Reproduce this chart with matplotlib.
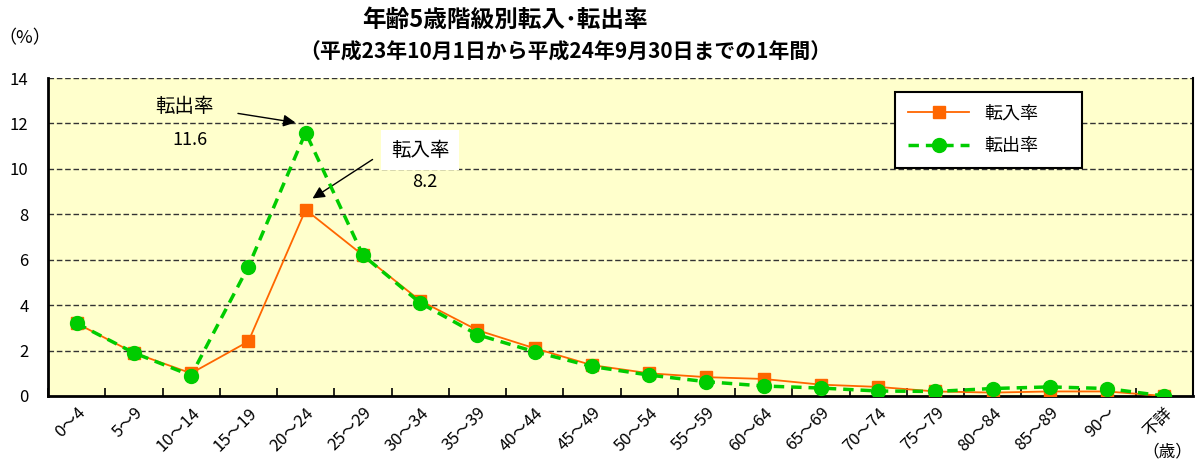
import matplotlib
matplotlib.use("Agg")
import matplotlib.pyplot as plt
import numpy as np

plt.rcParams['font.family'] = ['Noto Sans CJK JP', 'DejaVu Sans']

categories = ["0～4", "5～9", "10～14", "15～19", "20～24", "25～29", "30～34",
              "35～39", "40～44", "45～49", "50～54", "55～59", "60～64", "65～69",
              "70～74", "75～79", "80～84", "85～89", "90～", "不詳"]
tennyu = [3.2, 1.9, 1.0, 2.4, 8.2, 6.2, 4.2, 2.9, 2.1, 1.36, 1.0, 0.83, 0.75,
          0.5, 0.4, 0.2, 0.15, 0.2, 0.2, 0.0]
tenshutsu = [3.2, 1.9, 0.9, 5.7, 11.6, 6.2, 4.1, 2.7, 1.95, 1.3, 0.92, 0.63, 0.44,
             0.35, 0.22, 0.2, 0.33, 0.4, 0.33, 0.0]
yticks = [0, 2, 4, 6, 8, 10, 12, 14]

fig = plt.figure(figsize=(11.97, 4.61), dpi=100)
ax = fig.add_axes([48/1197, 1 - 396/461, 1145/1197, 318/461])
ax.set_facecolor('#FFFFCC')

x = np.arange(len(categories))
ax.plot(x, tennyu, color='#FF6600', lw=1.3, marker='s', ms=8,
        markerfacecolor='#FF6600', markeredgecolor='#FF6600', label='転入率', zorder=3)
ax.plot(x, tenshutsu, color='#00CC00', lw=2.5, ls=(0, (3, 2)), marker='o', ms=10,
        markerfacecolor='#00CC00', markeredgecolor='#00CC00', label='転出率', zorder=4)

ax.set_xlim(-0.5, len(categories) - 0.5)
ax.set_ylim(0, 14)
ax.set_yticks(yticks)
ax.set_yticklabels([str(v) for v in yticks], fontsize=12)
for v in yticks[1:]:
    ax.axhline(v, color='#333333', lw=1.0, ls=(0, (4, 2)), zorder=1)

ax.set_xticks(x)
ax.set_xticklabels(categories, rotation=45, ha='right', rotation_mode='anchor', fontsize=12)
ax.tick_params(axis='x', length=0, pad=6)
ax.set_xticks(np.arange(-0.5, len(categories), 1), minor=True)
ax.tick_params(axis='x', which='minor', direction='in', length=6, width=1.2)
ax.tick_params(axis='y', length=0, pad=14)

for s in ['left', 'bottom']:
    ax.spines[s].set_linewidth(2)
ax.spines['right'].set_linewidth(1.5)
ax.spines['top'].set_visible(False)

leg = ax.legend(loc='upper left', bbox_to_anchor=(0.74, 0.717, 0.163, 0.239), mode='expand',
                fontsize=13, frameon=True, fancybox=False, edgecolor='black',
                framealpha=1, labelspacing=0.8, handlelength=3.4, borderpad=0.7,
                borderaxespad=0)
leg.get_frame().set_linewidth(1.5)

ax.annotate('', xy=(3.87, 12.02), xytext=(2.77, 12.46),
            arrowprops=dict(arrowstyle='-|>', color='black', lw=1, mutation_scale=18))
ax.text(1.89, 12.73, '転出率', fontsize=14, ha='center', va='center')
ax.text(1.98, 11.27, '11.6', fontsize=13, ha='center', va='center')
ax.annotate('', xy=(4.08, 8.63), xytext=(5.21, 10.48),
            arrowprops=dict(arrowstyle='-|>', color='black', lw=1, mutation_scale=18))
ax.text(6.0, 10.83, '転入率', fontsize=14, ha='center', va='center',
        bbox=dict(facecolor='white', edgecolor='none', pad=7))
ax.text(6.08, 9.42, '8.2', fontsize=13, ha='center', va='center')

fig.text(505/1197, 1 - 20/461, '年齢5歳階級別転入･転出率', fontsize=17, fontweight='bold',
         ha='center', va='center')
fig.text(565/1197, 1 - 52/461, '（平成23年10月1日から平成24年9月30日までの1年間）', fontsize=15,
         fontweight='bold', ha='center', va='center')
fig.text(25/1197, 1 - 38/461, '（%）', fontsize=13, ha='center', va='center')
fig.text(1192/1197, 1 - 452/461, '（歳）', fontsize=12, ha='right', va='center')

fig.savefig('out.png', dpi=100)
